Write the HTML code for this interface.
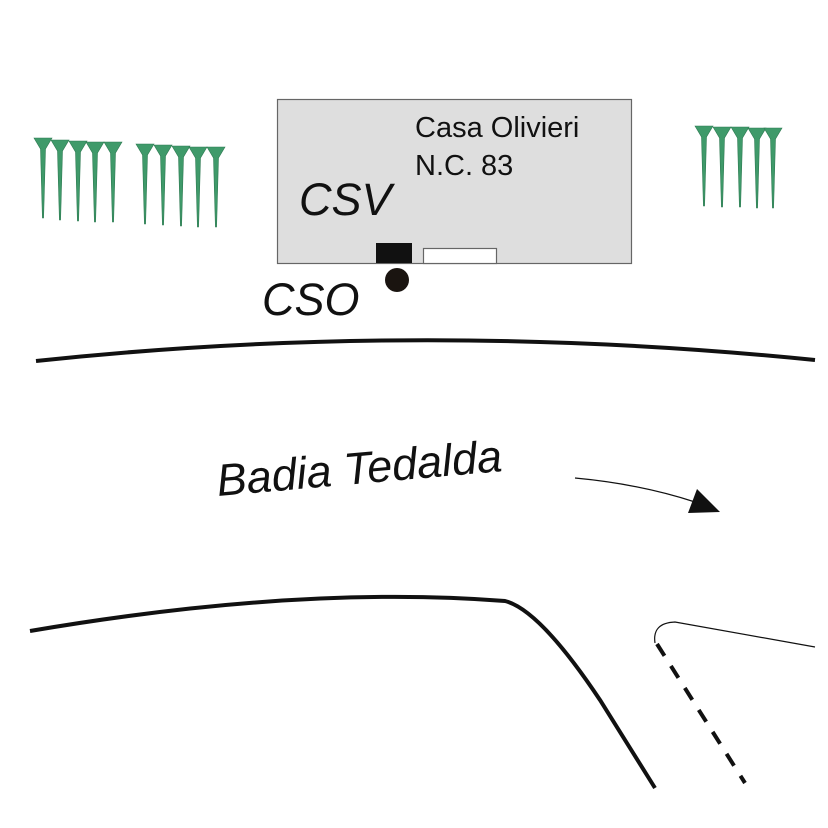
<!DOCTYPE html>
<html><head><style>body{margin:0;background:#fff}svg{display:block}</style></head><body>
<svg width="828" height="828" viewBox="0 0 828 828" xmlns="http://www.w3.org/2000/svg">
<defs>
<g id="t"><polygon points="-9,0 9,0 2.5,11 0.6,80 -0.6,80 -2.5,11" fill="#3f9a6a" stroke="#2e7a52" stroke-width="0.6"/></g>
</defs>
<use href="#t" x="43" y="138"/><use href="#t" x="60" y="140"/><use href="#t" x="78" y="141"/><use href="#t" x="95" y="142"/><use href="#t" x="113" y="142"/>
<use href="#t" x="145" y="144"/><use href="#t" x="163" y="145"/><use href="#t" x="181" y="146"/><use href="#t" x="198" y="147"/><use href="#t" x="216" y="147"/>
<use href="#t" x="704" y="126"/><use href="#t" x="722" y="127"/><use href="#t" x="740" y="127"/><use href="#t" x="757" y="128"/><use href="#t" x="773" y="128"/>
<rect x="277.5" y="99.5" width="354" height="164" fill="#dedede" stroke="#666" stroke-width="1.2"/>
<rect x="376" y="243" width="36" height="20" fill="#111"/>
<rect x="423.5" y="248.5" width="73" height="15" fill="#fff" stroke="#666" stroke-width="1.2"/>
<circle cx="397" cy="280" r="12" fill="#1a1410"/>
<text x="415" y="137" font-family="Liberation Sans, sans-serif" font-size="29" fill="#111">Casa Olivieri</text>
<text x="415" y="175" font-family="Liberation Sans, sans-serif" font-size="29" fill="#111">N.C. 83</text>
<text x="299" y="215" font-family="Liberation Sans, sans-serif" font-size="45" font-style="italic" fill="#111">CSV</text>
<text x="262" y="315" font-family="Liberation Sans, sans-serif" font-size="45" font-style="italic" fill="#111">CSO</text>
<text x="218" y="496" font-family="Liberation Sans, sans-serif" font-size="45" font-style="italic" fill="#111" transform="rotate(-5 218 496)">Badia Tedalda</text>
<path d="M36,361 Q420,320 815,360" fill="none" stroke="#111" stroke-width="4"/>
<path d="M575,478 Q640,484 695,502" fill="none" stroke="#111" stroke-width="1.2"/>
<polygon points="697,489 688,513 720,512" fill="#111"/>
<path d="M30,631 Q300,585 505,601 Q540,610 600,700 L655,788" fill="none" stroke="#111" stroke-width="4"/>
<path d="M655,643 Q652,623 675,622 L815,647" fill="none" stroke="#111" stroke-width="1.2"/>
<path d="M657,644 L745,783" fill="none" stroke="#111" stroke-width="4" stroke-dasharray="14,12"/>
</svg>
</body></html>
